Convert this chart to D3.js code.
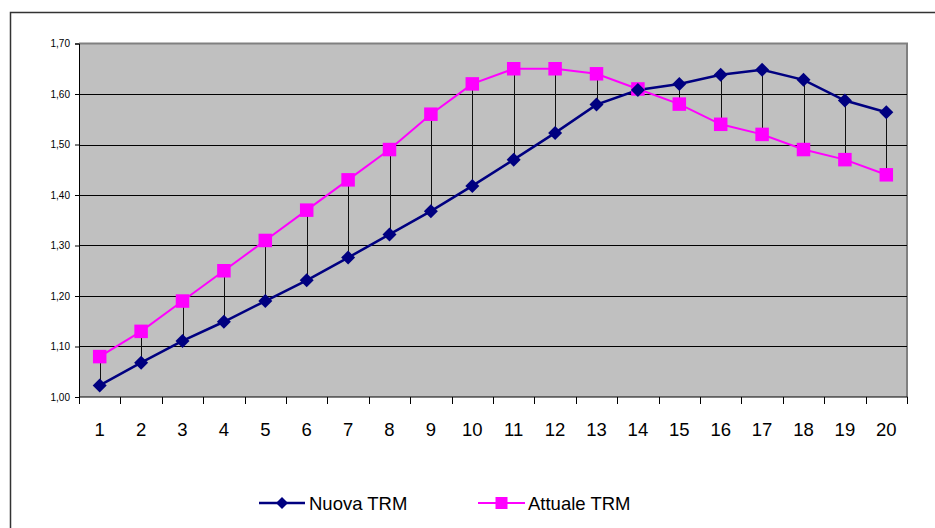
<!DOCTYPE html>
<html><head><meta charset="utf-8">
<script src="https://cdn.jsdelivr.net/npm/d3@7"></script>
<style>html,body{margin:0;padding:0;background:#fff;}svg{display:block;}</style>
</head><body>
<script>
const categories = ["1","2","3","4","5","6","7","8","9","10","11","12","13","14","15","16","17","18","19","20"];
const nuovaTRM = [1.023,1.068,1.111,1.149,1.190,1.231,1.276,1.322,1.368,1.418,1.470,1.523,1.579,1.608,1.620,1.638,1.648,1.628,1.587,1.564];
const attualeTRM = [1.08,1.13,1.19,1.25,1.31,1.37,1.43,1.49,1.56,1.62,1.65,1.65,1.64,1.61,1.58,1.54,1.52,1.49,1.47,1.44];
const yTicks = [1.00,1.10,1.20,1.30,1.40,1.50,1.60,1.70];
const seriesNames = ["Nuova TRM","Attuale TRM"];

const W = 935, H = 528;
const svg = d3.select("body").append("svg").attr("width", W).attr("height", H);
const font = "'Liberation Sans', Arial, sans-serif";

// outer frame
svg.append("path").attr("d", "M10.5,540 L10.5,12.5 L940,12.5")
  .attr("fill","none").attr("stroke","#333").attr("stroke-width",1.5);

const L = 79, R = 907, T = 43.5, B = 397;
const x = d3.scaleBand().domain(categories).range([L, R]);
const y = d3.scaleLinear().domain([1.0, 1.7]).range([B, T]);
const cx = d => x(d) + x.bandwidth()/2;

// plot area
svg.append("rect").attr("x", L).attr("y", T).attr("width", R-L).attr("height", B-T)
  .attr("fill","#c0c0c0");
svg.append("path").attr("d", `M${L},${T} L${R},${T} L${R},${B}`)
  .attr("fill","none").attr("stroke","#808080").attr("stroke-width",2);

// gridlines
svg.append("g").selectAll("line").data(yTicks.slice(1,-1)).join("line")
  .attr("x1", L).attr("x2", R)
  .attr("y1", d => Math.round(y(d))+0.5).attr("y2", d => Math.round(y(d))+0.5)
  .attr("stroke","#000").attr("stroke-width",1);

// y axis
const yAxis = d3.axisLeft(y).tickValues(yTicks).tickSize(4).tickPadding(5)
  .tickFormat(d => d3.format(".2f")(d).replace(".", ","));
const gy = svg.append("g").attr("transform", `translate(${L},0)`).call(yAxis);
gy.select(".domain").attr("stroke","#000");
gy.selectAll("line").attr("stroke","#000");
gy.selectAll("text").attr("font-family", font).attr("font-size", 10).attr("fill","#000");

// x axis
const xAxis = d3.axisBottom(x).tickSize(0).tickPadding(0);
const gx = svg.append("g").attr("transform", `translate(0,${B})`).call(xAxis);
gx.select(".domain").remove();
gx.selectAll("text").attr("font-family", font).attr("font-size", 18.5).attr("fill","#000")
  .attr("dy", null).attr("y", 38.5);
// tick marks at category boundaries
const bounds = categories.map(c => x(c)).concat([R]);
svg.append("g").selectAll("line").data(bounds).join("line")
  .attr("x1", d => Math.round(d)+0.5).attr("x2", d => Math.round(d)+0.5)
  .attr("y1", B).attr("y2", B+7).attr("stroke","#000");
svg.append("line").attr("x1", L).attr("x2", R+0.5).attr("y1", B).attr("y2", B)
  .attr("stroke","#000").attr("stroke-width",1.2);

// high-low lines
svg.append("g").selectAll("line").data(categories).join("line")
  .attr("x1", d => Math.round(cx(d))+0.5).attr("x2", d => Math.round(cx(d))+0.5)
  .attr("y1", (d,i) => y(nuovaTRM[i])).attr("y2", (d,i) => y(attualeTRM[i]))
  .attr("stroke","#111").attr("stroke-width",1);

// lines
const lineGen = vals => d3.line().x((d,i) => cx(categories[i])).y(d => y(d))(vals);
svg.append("path").attr("d", lineGen(attualeTRM)).attr("fill","none")
  .attr("stroke","#ff00ff").attr("stroke-width",2);
svg.append("path").attr("d", lineGen(nuovaTRM)).attr("fill","none")
  .attr("stroke","#000080").attr("stroke-width",2.5);

// markers
const sq = 13.5, dm = 7;
svg.append("g").selectAll("rect").data(attualeTRM).join("rect")
  .attr("x", (d,i) => cx(categories[i]) - sq/2).attr("y", d => y(d) - sq/2)
  .attr("width", sq).attr("height", sq).attr("fill","#ff00ff");
svg.append("g").selectAll("path").data(nuovaTRM).join("path")
  .attr("d", (d,i) => { const px = cx(categories[i]), py = y(d);
    return `M${px},${py-dm} L${px+dm},${py} L${px},${py+dm} L${px-dm},${py} Z`; })
  .attr("fill","#000080");

// legend
const leg = svg.append("g");
const items = [
  {name: seriesNames[0], color:"#000080", x1:259, x2:305, tx:309, shape:"diamond"},
  {name: seriesNames[1], color:"#ff00ff", x1:478, x2:525, tx:528, shape:"square"}
];
const ly = 503;
items.forEach(it => {
  leg.append("line").attr("x1", it.x1).attr("x2", it.x2).attr("y1", ly).attr("y2", ly)
    .attr("stroke", it.color).attr("stroke-width", it.shape==="diamond"?2.5:2);
  const mx = (it.x1+it.x2)/2;
  if (it.shape === "diamond") {
    leg.append("path").attr("d", `M${mx},${ly-6} L${mx+6},${ly} L${mx},${ly+6} L${mx-6},${ly} Z`).attr("fill", it.color);
  } else {
    leg.append("rect").attr("x", mx-6).attr("y", ly-6).attr("width",12).attr("height",12).attr("fill", it.color);
  }
  leg.append("text").attr("x", it.tx).attr("y", ly+6.5).text(it.name)
    .attr("font-family", font).attr("font-size", 18.5).attr("fill","#000");
});
</script>
</body></html>
